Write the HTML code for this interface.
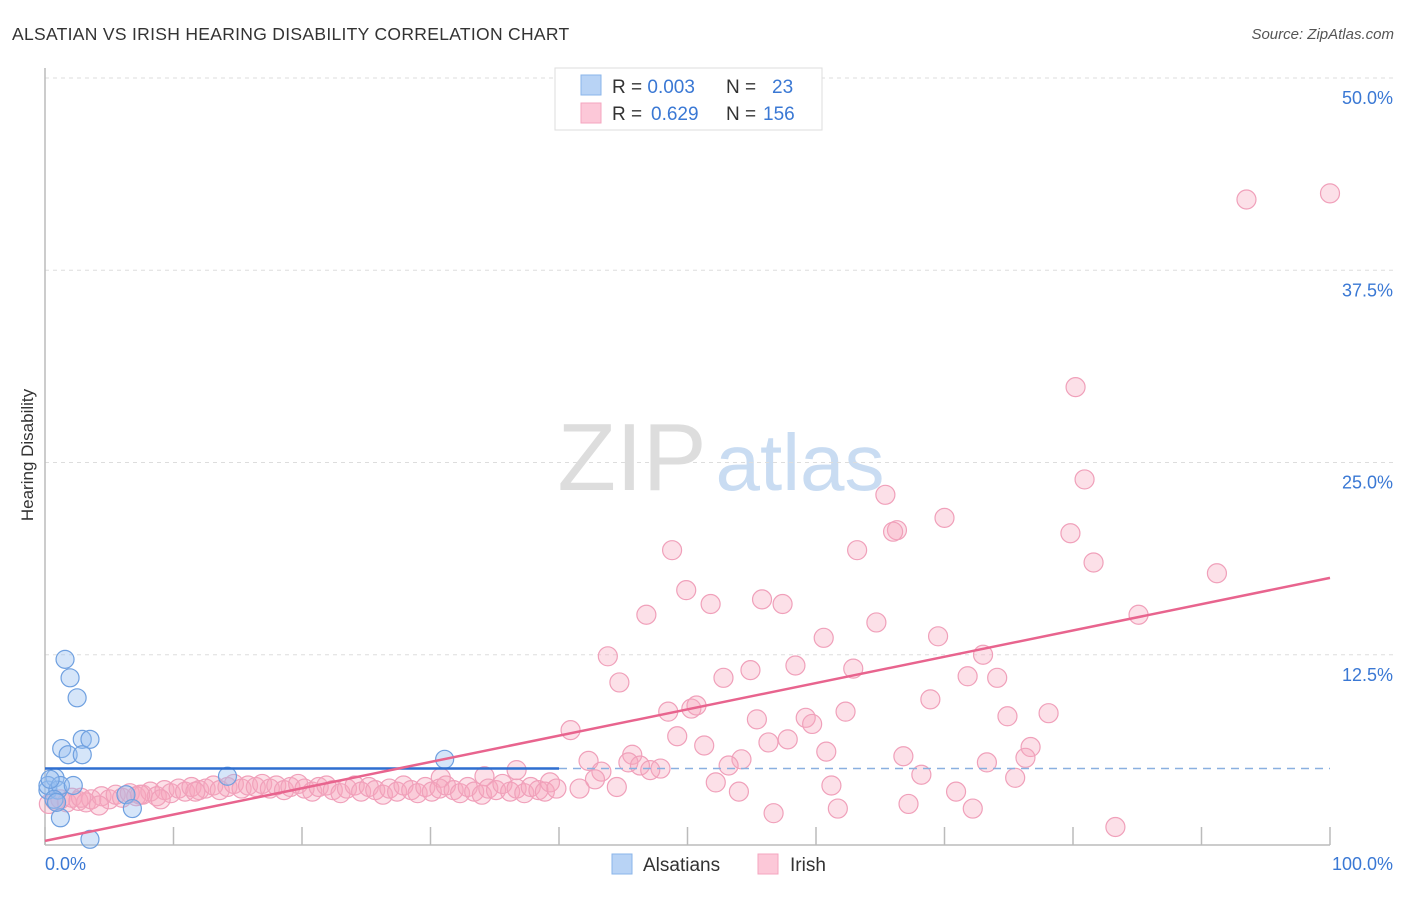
<!DOCTYPE html>
<html><head><meta charset="utf-8"><style>
body{margin:0;background:#fff;font-family:"Liberation Sans",sans-serif}
svg text{font-family:"Liberation Sans",sans-serif}
</style></head><body>
<svg id="c" width="1406" height="892">
<text x="12" y="40" font-size="17.5" fill="#333" letter-spacing="0.3">ALSATIAN VS IRISH HEARING DISABILITY CORRELATION CHART</text>
<text x="1394" y="39" font-size="15" fill="#555" font-style="italic" text-anchor="end">Source: ZipAtlas.com</text>
<text transform="translate(33,455) rotate(-90)" font-size="17" fill="#333" text-anchor="middle">Hearing Disability</text>
<g>
<text x="632" y="490" font-size="96" fill="#ddd" font-family="Liberation Serif" text-anchor="middle">ZIP</text>
<text x="800" y="490" font-size="80" fill="#c9dcf2" text-anchor="middle">atlas</text>
</g>
<g id="grid"></g>
<g id="axes"></g>
<g id="marks"></g>
<g>
<rect x="555" y="68" width="267" height="62" fill="#fff" stroke="#ddd"/>
<rect x="581" y="75" width="20" height="20" fill="#b8d3f5" stroke="#8ab4ea"/>
<rect x="581" y="103" width="20" height="20" fill="#fcc8d8" stroke="#f4a6bf"/>
<text x="612" y="93" font-size="19" fill="#333">R = <tspan fill="#3a78d4">0.003</tspan><tspan x="726">N =</tspan><tspan x="772" fill="#3a78d4">23</tspan></text>
<text x="612" y="120" font-size="19" fill="#333">R = <tspan fill="#3a78d4" x="651">0.629</tspan><tspan x="726">N =</tspan><tspan x="763" fill="#3a78d4">156</tspan></text>
</g>
<g>
<rect x="612" y="854" width="20" height="20" fill="#b8d3f5" stroke="#8ab4ea"/>
<text x="643" y="871" font-size="19" fill="#333">Alsatians</text>
<rect x="758" y="854" width="20" height="20" fill="#fcc8d8" stroke="#f4a6bf"/>
<text x="790" y="871" font-size="19" fill="#333">Irish</text>
</g>
</svg>
<script>
const yTicks=[12.5,25,37.5,50];
const yTickLabels=["12.5%","25.0%","37.5%","50.0%"];
const xTicks=[0,10,20,30,40,50,60,70,80,90,100];
const blueX=[0.23,0.78,0.23,1.0,1.56,1.95,2.5,1.3,2.9,3.5,1.8,2.9,1.2,2.2,1.2,3.5,0.7,6.3,6.8,14.2,31.1,0.4,0.9];
const blueY=[3.7,4.5,4.0,3.7,12.2,11.0,9.7,6.4,7.0,7.0,6.0,6.0,4.0,4.0,1.9,0.5,3.1,3.4,2.5,4.6,5.7,4.4,2.9];
const pinkX=[100,93.5,80.2,80.9,65.4,66.3,66.0,70.0,79.8,48.8,63.2,81.6,91.2,49.9,55.8,57.4,51.8,46.8,85.1,64.7,60.6,69.5,43.8,73.0,58.4,62.9,54.9,52.8,71.8,74.1,44.7,68.9,62.3,48.5,50.3,50.7,59.2,59.7,55.4,74.9,78.1,40.9,49.2,56.3,57.8,51.3,76.7,60.8,45.7,42.3,66.8,76.3,45.4,54.2,73.3,53.2,47.9,46.3,47.1,43.3,36.7,68.2,75.5,34.2,42.8,30.8,52.2,61.2,54.0,44.5,41.6,70.9,67.2,61.7,72.2,56.7,83.3,
0.3,0.8,1.2,1.7,2.1,2.6,3.2,3.6,4.4,5.0,5.5,6.0,6.6,7.1,7.6,8.2,8.7,9.3,9.8,10.4,10.9,11.4,12.0,12.5,13.1,13.6,14.2,14.7,15.3,15.8,16.4,16.9,17.5,18.0,18.6,19.1,19.7,20.2,20.8,21.3,21.9,22.4,23.0,23.5,24.1,24.6,25.2,25.7,26.3,26.8,27.4,27.9,28.5,29.0,29.6,30.1,30.7,31.2,31.8,32.3,32.9,33.4,34.0,34.5,35.1,35.6,36.2,36.7,37.3,37.8,38.4,38.9,39.3,39.8,2.8,4.2,7.4,9.0,11.7];
const pinkY=[42.5,42.1,29.9,23.9,22.9,20.6,20.5,21.4,20.4,19.3,19.3,18.5,17.8,16.7,16.1,15.8,15.8,15.1,15.1,14.6,13.6,13.7,12.4,12.5,11.8,11.6,11.5,11.0,11.1,11.0,10.7,9.6,8.8,8.8,9.0,9.2,8.4,8.0,8.3,8.5,8.7,7.6,7.2,6.8,7.0,6.6,6.5,6.2,6.0,5.6,5.9,5.8,5.5,5.7,5.5,5.3,5.1,5.3,5.0,4.9,5.0,4.7,4.5,4.6,4.4,4.5,4.2,4.0,3.6,3.9,3.8,3.6,2.8,2.5,2.5,2.2,1.3,
2.8,3.0,3.1,2.9,3.2,3.0,2.9,3.1,3.3,3.1,3.4,3.2,3.5,3.3,3.4,3.6,3.3,3.7,3.5,3.8,3.6,3.9,3.7,3.8,4.0,3.7,3.9,4.1,3.8,4.0,3.9,4.1,3.8,4.0,3.7,3.9,4.1,3.8,3.6,3.9,4.0,3.7,3.5,3.8,4.0,3.6,3.9,3.7,3.4,3.8,3.6,4.0,3.7,3.5,3.9,3.6,3.8,4.0,3.7,3.5,3.9,3.6,3.4,3.8,3.7,4.1,3.6,3.8,3.5,3.9,3.7,3.6,4.2,3.8,3.2,2.7,3.4,3.1,3.6];
const blueTrend=[5.1,5.1];
const pinkTrend=[0.4,17.5];
const NS="http://www.w3.org/2000/svg";
const X=v=>45+v*12.85, Y=v=>847-v*15.38;
function mk(t,a,p){const e=document.createElementNS(NS,t);for(const k in a)e.setAttribute(k,a[k]);p.appendChild(e);return e;}
const grid=document.getElementById('grid'),axes=document.getElementById('axes'),marks=document.getElementById('marks');
yTicks.forEach((t,i)=>{
 const l=mk('line',{x1:45,x2:1393,y1:Y(t),y2:Y(t),stroke:'#ddd','stroke-dasharray':'4,4'},grid);
 
 
 const tx=mk('text',{x:1393,y:Y(t)+26,'font-size':18,fill:'#3a78d4','text-anchor':'end'},axes);
 tx.textContent=yTickLabels[i];
 
 
});
const ya=mk('line',{x1:45,x2:45,y1:68,y2:845,stroke:'#bbb','stroke-width':1.5},axes);


const xa=mk('line',{x1:45,x2:1330,y1:845,y2:845,stroke:'#bbb','stroke-width':1.5},axes);


xTicks.forEach(t=>{
 const l=mk('line',{x1:X(t),x2:X(t),y1:827,y2:845,stroke:'#bbb','stroke-width':1.5},axes);
 
 
});
const x0=mk('text',{x:45,y:870,'font-size':18,fill:'#3a78d4'},axes);x0.textContent='0.0%';


const x1=mk('text',{x:1393,y:870,'font-size':18,fill:'#3a78d4','text-anchor':'end'},axes);x1.textContent='100.0%';


pinkX.forEach((v,i)=>{
 const c=mk('circle',{cx:X(v),cy:Y(pinkY[i]),r:9.5,fill:'rgba(246,165,190,0.35)',stroke:'#f0a0ba','stroke-width':1.2},marks);
 
 
});
blueX.forEach((v,i)=>{
 const c=mk('circle',{cx:X(v),cy:Y(blueY[i]),r:9,fill:'rgba(150,190,240,0.4)',stroke:'#6fa0e0','stroke-width':1.2},marks);
 
 
});
const bt=mk('line',{x1:X(0),x2:X(40),y1:Y(blueTrend[0]),y2:Y(blueTrend[0]+(blueTrend[1]-blueTrend[0])*0.4),stroke:'#2f6fd0','stroke-width':2.5},marks);


const bd=mk('line',{x1:X(40),x2:X(100),y1:Y(blueTrend[0]+(blueTrend[1]-blueTrend[0])*0.4),y2:Y(blueTrend[1]),stroke:'#8ab0e0','stroke-width':1.5,'stroke-dasharray':'8,6'},marks);


const pt=mk('line',{x1:X(0),x2:X(100),y1:Y(pinkTrend[0]),y2:Y(pinkTrend[1]),stroke:'#e8648e','stroke-width':2.5},marks);


</script>
</body></html>
